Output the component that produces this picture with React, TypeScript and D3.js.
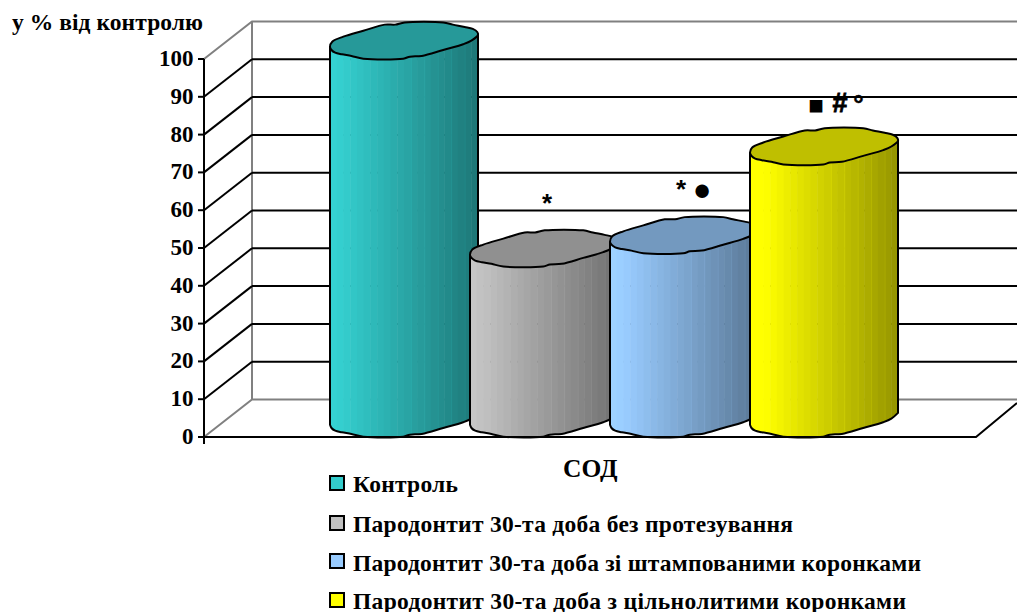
import React from "react";
import * as d3 from "d3";

// Chart values
const seriesNames = [
  "Контроль",
  "Пародонтит 30-та доба без протезування",
  "Пародонтит 30-та доба зі штампованими коронками",
  "Пародонтит 30-та доба з цільнолитими коронками",
];
const seriesValues = [100, 45, 48.5, 72];
const tickValues = [0, 10, 20, 30, 40, 50, 60, 70, 80, 90, 100];
const categoryLabel = "СОД";
const axisTitle = "у % від контролю";
const starMark = "*";
const circleMark = "●";
const squareMark = "■";
const hashMark = "#";
const ringMark = "°";

// Styling, one colour per series
const seriesColors = ["#33CCCC", "#C0C0C0", "#99CCFF", "#FFFF00"];
const serif = "'Liberation Serif', serif";
const sans = "'Liberation Sans', sans-serif";

const W = 1017;
const H = 612;
const frontX = 204;
const depthX = 48;
const depthY = 37.5;
const floorRight = 976;
const y = d3.scaleLinear().domain([0, 100]).range([437, 59]);
const x = d3.scaleBand<number>().domain([0, 1, 2, 3]).range([330, 890]).paddingInner(0);
const barW = 148;
const capHalf = 18;
const bandCount = 22;

// Faceted outline of the slanted cap, in units of the half-width and half-height
const capFarEdge: [number, number][] = [
  [-0.97, 0.04], [-0.82, -0.24], [-0.55, -0.57], [-0.26, -0.91], [-0.12, -0.91],
  [0.01, -1.03], [0.53, -1.03], [0.66, -0.91], [0.82, -0.78], [0.93, -0.67], [0.99, -0.5],
];
const capNearEdge: [number, number][] = [
  [1, -0.34], [0.91, -0.02], [0.8, 0.18], [0.53, 0.5], [0.24, 0.83], [0.08, 0.87], [-0.01, 0.98],
  [-0.55, 0.98], [-0.71, 0.83], [-0.84, 0.74], [-0.93, 0.65], [-0.98, 0.5], [-1, 0.32],
];
const closedCurve = d3.line().curve(d3.curveCatmullRomClosed.alpha(0.5));
const openCurve = d3.line().curve(d3.curveCatmullRom.alpha(0.5));

function Cylinder({ index }: { index: number }) {
  const left = x(index) as number;
  const cx = left + barW / 2;
  const topY = y(seriesValues[index]) - capHalf;
  const botY = y(0) - capHalf;
  const color = d3.color(seriesColors[index]) as d3.RGBColor;
  const shade = d3.scaleLinear().domain([0, 0.1, 1]).range([1.04, 1.0, 0.58]);
  const tint = (k: number) =>
    d3.rgb(Math.min(255, color.r * k), Math.min(255, color.g * k), Math.min(255, color.b * k)).formatHex();
  const place = (pts: [number, number][], cy: number) =>
    pts.map(([u, v]) => [cx + (u * barW) / 2, cy + v * capHalf] as [number, number]);

  // Straight sides down to the curved bottom edge; the cap covers the open top
  const bottom = place(capNearEdge, botY);
  const [rx, ry] = place(capNearEdge, topY)[0];
  const [lx, ly] = place(capNearEdge, topY)[capNearEdge.length - 1];
  const outline = `M${rx},${ry}L${(openCurve(bottom) as string).slice(1)}L${lx},${ly}`;
  const cap = [...place(capFarEdge, topY), ...place(capNearEdge, topY)];
  const clipId = `cyl-${index}`;
  const stripW = barW / bandCount;
  return (
    <g>
      <clipPath id={clipId}>
        <path d={outline} />
      </clipPath>
      <g clipPath={`url(#${clipId})`}>
        {d3.range(bandCount).map((i) => (
          <g key={i}>
            <rect
              x={left + i * stripW}
              y={topY - 30}
              width={stripW + 0.5}
              height={botY - topY + 70}
              fill={tint(shade((i + 0.5) / bandCount))}
            />
            {i > bandCount / 2 && i % 2 === 0 ? (
              <rect
                x={left + i * stripW}
                y={topY - 30}
                width={1}
                height={botY - topY + 70}
                fill={tint(shade((i + 0.5) / bandCount) + 0.06)}
              />
            ) : null}
          </g>
        ))}
      </g>
      <path d={outline} fill="none" stroke="#000" strokeWidth={2} strokeLinejoin="round" />
      <path
        d={closedCurve(cap) as string}
        fill={tint(0.75)}
        stroke="#000"
        strokeWidth={2}
        strokeLinejoin="round"
      />
    </g>
  );
}

export default function App() {
  return (
    <svg
      width={W}
      height={H}
      viewBox={`0 0 ${W} ${H}`}
      style={{ position: "absolute", left: 0, top: 0, background: "#fff" }}
    >
      {/* Back wall and floor edges */}
      <path
        d={`M${frontX},${y(100)}L${frontX + depthX},${y(100) - depthY}H${W}`}
        fill="none"
        stroke="#808080"
        strokeWidth={2}
      />
      <line x1={frontX + depthX} x2={frontX + depthX} y1={y(100) - depthY} y2={y(0) - depthY} stroke="#808080" strokeWidth={2} />
      <path
        d={`M${frontX},${y(0)}L${frontX + depthX},${y(0) - depthY}H${W}`}
        fill="none"
        stroke="#808080"
        strokeWidth={2}
      />

      {/* Gridlines: the slanted run on the side wall, then along the back wall */}
      {tickValues.slice(1, -1).map((v) => (
        <g key={v}>
          <line x1={frontX + depthX} x2={W} y1={y(v) - depthY} y2={y(v) - depthY} stroke="#000" strokeWidth={2} />
          <line x1={frontX} y1={y(v)} x2={frontX + depthX} y2={y(v) - depthY} stroke="#000" strokeWidth={2} />
        </g>
      ))}

      {/* Cylinders, painted left to right so each overlaps the previous one */}
      {seriesValues.map((_, i) => (
        <Cylinder key={i} index={i} />
      ))}

      {/* Value axis and category axis */}
      <line x1={frontX} x2={frontX} y1={y(100)} y2={y(0) + 7} stroke="#000" strokeWidth={2} />
      <path d={`M${frontX - 6},${y(0)}H${floorRight}L${W},${y(0) - 34}`} fill="none" stroke="#000" strokeWidth={2} />
      {tickValues.map((v) => (
        <g key={v}>
          <line x1={frontX - 6} x2={frontX} y1={y(v)} y2={y(v)} stroke="#000" strokeWidth={2} />
          <text
            x={frontX - 10.5}
            y={y(v) + 7}
            textAnchor="end"
            fontFamily={serif}
            fontWeight="bold"
            fontSize={23}
            fill="#000"
          >
            {v}
          </text>
        </g>
      ))}

      <text x={12} y={30} fontFamily={serif} fontWeight="bold" fontSize={23.5} textLength={191} fill="#000">
        {axisTitle}
      </text>
      <text x={563} y={477} fontFamily={serif} fontWeight="bold" fontSize={25.5} fill="#000">
        {categoryLabel}
      </text>

      {/* Significance marks above the cylinders */}
      <text x={547} y={212} textAnchor="middle" fontFamily={sans} fontWeight="bold" fontSize={26} fill="#000">
        {starMark}
      </text>
      <text x={681} y={198} textAnchor="middle" fontFamily={sans} fontWeight="bold" fontSize={26} fill="#000">
        {starMark}
      </text>
      <text x={702} y={199.5} textAnchor="middle" fontFamily={sans} fontWeight="bold" fontSize={31} fill="#000">
        {circleMark}
      </text>
      <text x={816} y={114} textAnchor="middle" fontFamily={sans} fontWeight="bold" fontSize={26} fill="#000">
        {squareMark}
      </text>
      <text x={840} y={112} textAnchor="middle" fontFamily={sans} fontWeight="bold" fontSize={27} fill="#000" stroke="#000" strokeWidth={0.8}>
        {hashMark}
      </text>
      <text x={858.5} y={113} textAnchor="middle" fontFamily={sans} fontWeight="bold" fontSize={26} fill="#000" stroke="#000" strokeWidth={0.5}>
        {ringMark}
      </text>

      {/* Legend */}
      {seriesNames.map((name, i) => {
        const rowY = [476, 516, 554, 593][i];
        const baseline = [492, 532, 570.5, 608.5][i];
        const widths = [105, 440, 568, 553];
        return (
          <g key={name}>
            <rect x={330} y={rowY} width={14} height={14} fill={seriesColors[i]} stroke="#000" strokeWidth={2} />
            <text
              x={353}
              y={baseline}
              fontFamily={serif}
              fontWeight="bold"
              fontSize={23.5}
              textLength={widths[i]}
              fill="#000"
            >
              {name}
            </text>
          </g>
        );
      })}
    </svg>
  );
}
